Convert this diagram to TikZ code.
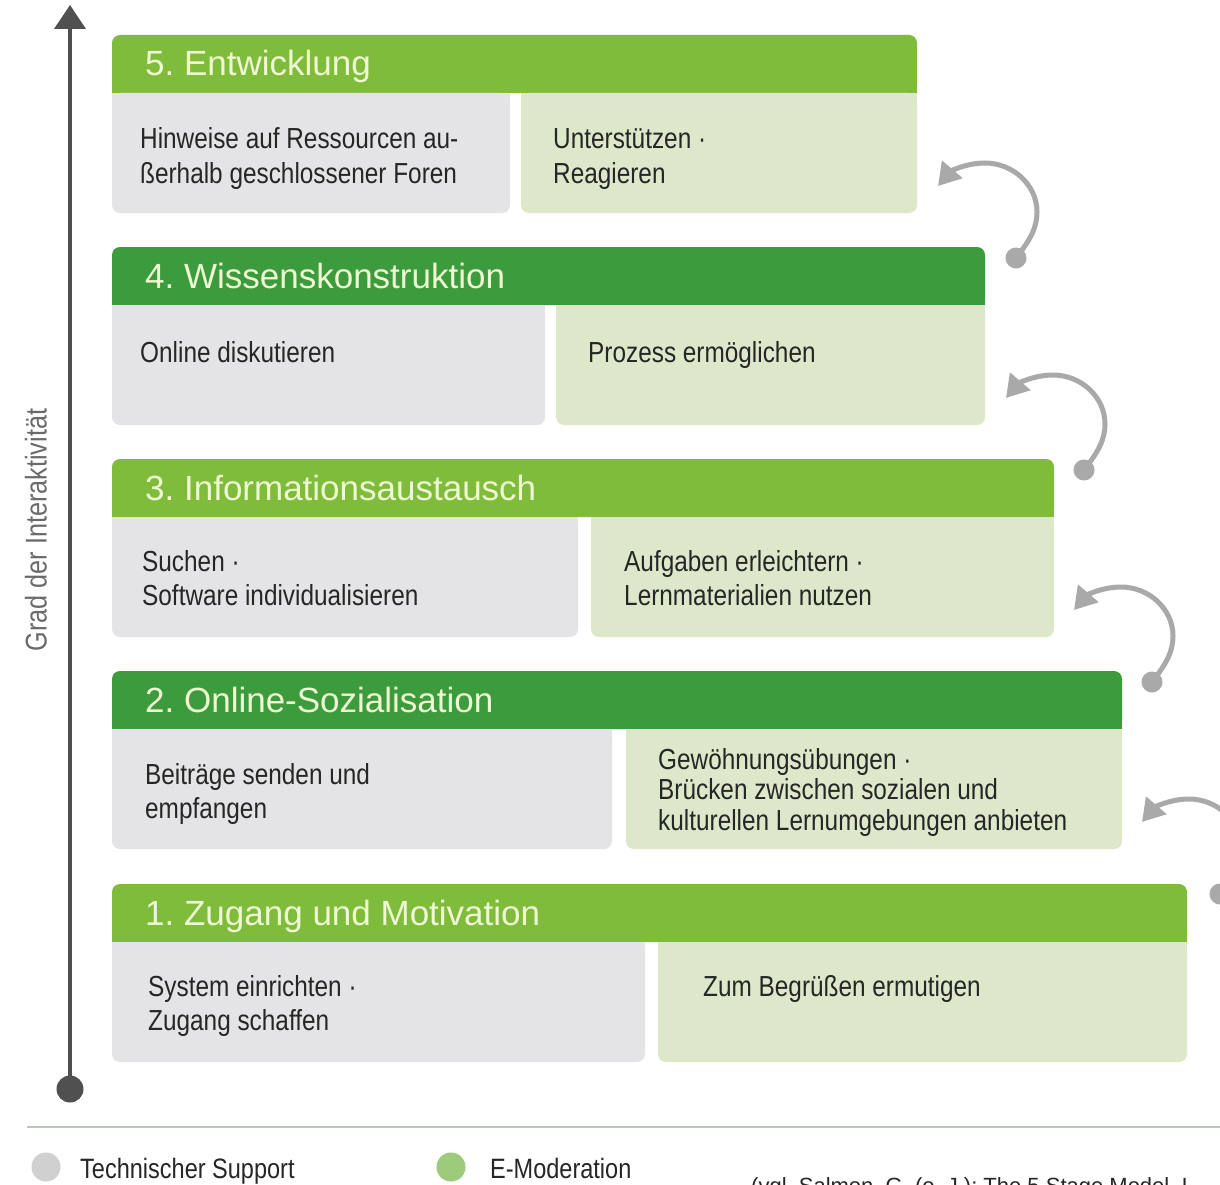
\documentclass[tikz,border=0pt]{standalone}
\usepackage{fontspec}
\setmainfont{Liberation Sans}
\newfontfamily\bodyfont{Liberation Sans}[FakeStretch=0.84]
\newfontfamily\hdrfont{Liberation Sans}[FakeStretch=1.0]
\usetikzlibrary{arrows.meta}
\definecolor{lgreen}{HTML}{80BC3C}
\definecolor{dgreen}{HTML}{3C9B3C}
\definecolor{hdrtext}{HTML}{EEF8D2}
\definecolor{bgray}{HTML}{E4E4E6}
\definecolor{bgreen}{HTML}{DDE8CB}
\definecolor{arrowgray}{HTML}{A9A9A9}
\definecolor{axisgray}{HTML}{505050}
\definecolor{labgray}{HTML}{6A6A6A}
\definecolor{txt}{HTML}{262626}
\definecolor{rulecol}{HTML}{BCC4BC}
\definecolor{leggray}{HTML}{D0D0D0}
\definecolor{leggreen}{HTML}{9CCB7C}
\newcommand\stagebg[5]{%
  \fill[#5,rounded corners=8pt] (112,#1) rectangle (#4,#1+58);
  \fill[#5] (112,#1+30) rectangle (#4,#1+58);
  \fill[bgray,rounded corners=8pt] (112,#1+58) rectangle (#2,#1+178);
  \fill[bgray] (112,#1+58) rectangle (#2,#1+110);
  \fill[bgreen,rounded corners=8pt] (#3,#1+58) rectangle (#4,#1+178);
  \fill[bgreen] (#3,#1+58) rectangle (#4,#1+110);
}
\newcommand\cyclear[3]{%
  \begin{scope}[shift={(#1,#2)}]
    \coordinate (s#3) at (1016,258);
    \coordinate (e#3) at (938,186);
    \fill[arrowgray] (s#3) circle[radius=10.5];
    \draw[cyclearrow] (s#3) .. controls (1030,240) and (1037,228) .. (1037,212)
      .. controls (1037,185) and (1013,163) .. (985,163)
      .. controls (965,163) and (950,172) .. (e#3);
  \end{scope}}
\begin{document}
\frenchspacing
\begin{tikzpicture}[x=1pt,y=-1pt,
  hdrtxt/.style={anchor=base west, inner sep=0pt, text=hdrtext, font=\hdrfont\fontsize{35}{40}\selectfont},
  bodytxt/.style={anchor=base west, inner sep=0pt, text=txt, align=left, font=\bodyfont\fontsize{29}{34}\selectfont},
  cyclearrow/.style={draw=arrowgray, line width=5pt, -{Triangle[length=22pt,width=26pt]}},
  legtxt/.style={anchor=base west, inner sep=0pt, text=txt, font=\bodyfont\fontsize{28}{32}\selectfont}]
\useasboundingbox (0,0) rectangle (1220,1185);
\clip (0,0) rectangle (1220,1185);
\fill[white] (0,0) rectangle (1220,1185);

% stages
\stagebg{35}{510}{521}{917}{lgreen}
\stagebg{247}{545}{556}{985}{dgreen}
\stagebg{459}{578}{591}{1054}{lgreen}
\stagebg{671}{612}{626}{1122}{dgreen}
\stagebg{884}{645}{658}{1187}{lgreen}

% multi-line nodes are placed at the baseline of their last line
\node[hdrtxt] (h5) at (145,76) {5. Entwicklung};
\node[bodytxt] (t5a) at (140,183) {Hinweise auf Ressourcen au-\\ßerhalb geschlossener Foren};
\node[bodytxt] (t5b) at (553,183) {Unterstützen ·\\Reagieren};

\node[hdrtxt] (h4) at (145,288) {4. Wissenskonstruktion};
\node[bodytxt] (t4a) at (140,362) {Online diskutieren};
\node[bodytxt] (t4b) at (588,362) {Prozess ermöglichen};

\node[hdrtxt] (h3) at (145,500) {3. Informationsaustausch};
\node[bodytxt] (t3a) at (142,605) {Suchen ·\\Software individualisieren};
\node[bodytxt] (t3b) at (624,605) {Aufgaben erleichtern ·\\Lernmaterialien nutzen};

\node[hdrtxt] (h2) at (145,712) {2. Online-Sozialisation};
\node[bodytxt] (t2a) at (145,818) {Beiträge senden und\\empfangen};
\node[bodytxt, font=\bodyfont\fontsize{29}{30.5}\selectfont] (t2b) at (658,830) {Gewöhnungsübungen ·\\Brücken zwischen sozialen und\\kulturellen Lernumgebungen anbieten};

\node[hdrtxt] (h1) at (145,925) {1. Zugang und Motivation};
\node[bodytxt] (t1a) at (148,1030) {System einrichten ·\\Zugang schaffen};
\node[bodytxt] (t1b) at (703,996) {Zum Begrüßen ermutigen};

% cycle arrows
\cyclear{0}{0}{1}
\cyclear{68}{212}{2}
\cyclear{136}{424}{3}
\cyclear{204}{636}{4}

% axis
\coordinate (ax0) at (70,1089);
\coordinate (ax1) at (70,5);
\draw[axisgray, line width=4pt, -{Triangle[length=24pt,width=31pt]}] (ax0) -- (ax1);
\fill[axisgray] (ax0) circle[radius=13.5];
\node[rotate=90, inner sep=0pt, text=labgray, font=\bodyfont\fontsize{30}{34}\selectfont] (lab) at (36,530) {Grad der Interaktivität};

% rule and legend
\draw[rulecol, line width=2.5pt] (27,1127) -- (1220,1127);
\fill[leggray] (46,1167) circle[radius=14.5];
\node[legtxt] (l1) at (80,1178) {Technischer Support};
\fill[leggreen] (451,1167) circle[radius=14.5];
\node[legtxt] (l2) at (490,1178) {E-Moderation};
\node[anchor=base west, inner sep=0pt, text=txt, font=\fontsize{22}{26}\selectfont] (cite) at (751,1193) {(vgl. Salmon, G. (o. J.): The 5 Stage Model. I};
\end{tikzpicture}
\end{document}
